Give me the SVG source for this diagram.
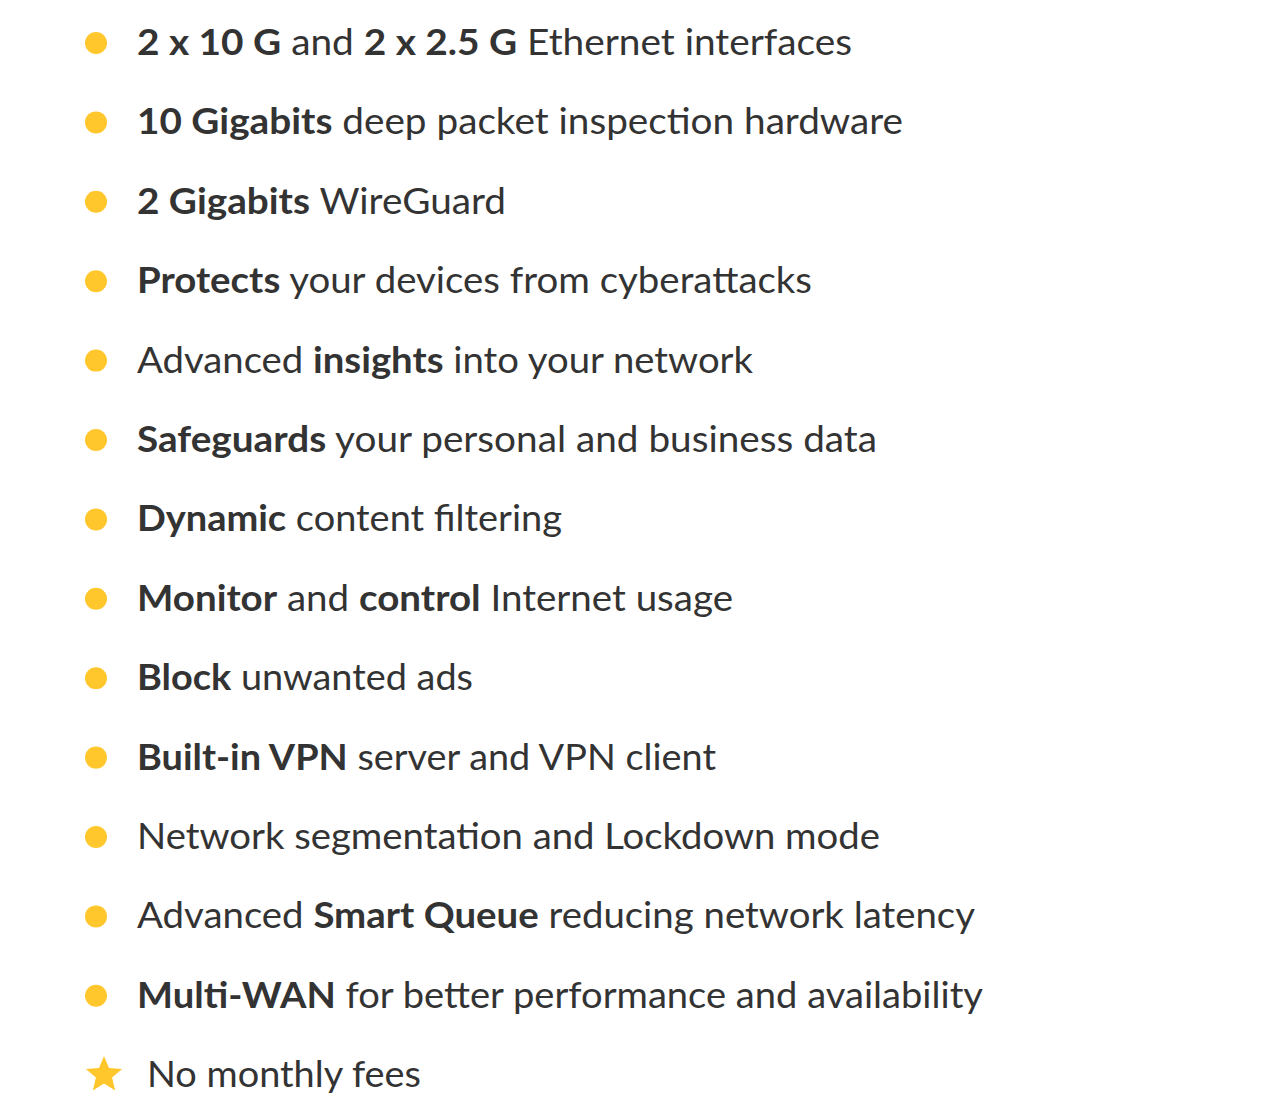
<svg xmlns="http://www.w3.org/2000/svg" width="1280" height="1118" viewBox="0 0 1280 1118">
<style>
.t{font-family:Lato,"Noto Sans","Liberation Sans",sans-serif;font-size:37px;fill:#333333}
.b{font-weight:700}
.dot{fill:#FFC72C}
</style>
<rect width="1280" height="1118" fill="#ffffff"/>
<g id="item1"><circle class="dot" cx="96" cy="43" r="11"/><text class="t" x="137" y="55" textLength="715" lengthAdjust="spacingAndGlyphs"><tspan class="b">2 x 10 G</tspan> and <tspan class="b">2 x 2.5 G</tspan> Ethernet interfaces</text></g>
<g id="item2"><circle class="dot" cx="96" cy="122.4" r="11"/><text class="t" x="137" y="134.4" textLength="766" lengthAdjust="spacingAndGlyphs"><tspan class="b">10 Gigabits</tspan> deep packet inspection hardware</text></g>
<g id="item3"><circle class="dot" cx="96" cy="201.8" r="11"/><text class="t" x="137" y="213.8" textLength="369" lengthAdjust="spacingAndGlyphs"><tspan class="b">2 Gigabits</tspan> WireGuard</text></g>
<g id="item4"><circle class="dot" cx="96" cy="281.2" r="11"/><text class="t" x="137" y="293.2" textLength="675" lengthAdjust="spacingAndGlyphs"><tspan class="b">Protects</tspan> your devices from cyberattacks</text></g>
<g id="item5"><circle class="dot" cx="96" cy="360.6" r="11"/><text class="t" x="137" y="372.6" textLength="616" lengthAdjust="spacingAndGlyphs">Advanced <tspan class="b">insights</tspan> into your network</text></g>
<g id="item6"><circle class="dot" cx="96" cy="440" r="11"/><text class="t" x="137" y="452" textLength="740" lengthAdjust="spacingAndGlyphs"><tspan class="b">Safeguards</tspan> your personal and business data</text></g>
<g id="item7"><circle class="dot" cx="96" cy="519.4" r="11"/><text class="t" x="137" y="531.4" textLength="425" lengthAdjust="spacingAndGlyphs"><tspan class="b">Dynamic</tspan> content filtering</text></g>
<g id="item8"><circle class="dot" cx="96" cy="598.8" r="11"/><text class="t" x="137" y="610.8" textLength="596" lengthAdjust="spacingAndGlyphs"><tspan class="b">Monitor</tspan> and <tspan class="b">control</tspan> Internet usage</text></g>
<g id="item9"><circle class="dot" cx="96" cy="678.2" r="11"/><text class="t" x="137" y="690.2" textLength="336" lengthAdjust="spacingAndGlyphs"><tspan class="b">Block</tspan> unwanted ads</text></g>
<g id="item10"><circle class="dot" cx="96" cy="757.6" r="11"/><text class="t" x="137" y="769.6" textLength="579" lengthAdjust="spacingAndGlyphs"><tspan class="b">Built-in VPN</tspan> server and VPN client</text></g>
<g id="item11"><circle class="dot" cx="96" cy="837" r="11"/><text class="t" x="137" y="849" textLength="743" lengthAdjust="spacingAndGlyphs">Network segmentation and Lockdown mode</text></g>
<g id="item12"><circle class="dot" cx="96" cy="916.4" r="11"/><text class="t" x="137" y="928.4" textLength="838" lengthAdjust="spacingAndGlyphs">Advanced <tspan class="b">Smart Queue</tspan> reducing network latency</text></g>
<g id="item13"><circle class="dot" cx="96" cy="995.8" r="11"/><text class="t" x="137" y="1007.8" textLength="846" lengthAdjust="spacingAndGlyphs"><tspan class="b">Multi-WAN</tspan> for better performance and availability</text></g>
<g id="item14"><polygon class="dot" points="104,1056 109,1068.1 122.1,1069.1 112.1,1077.6 115.2,1090.4 104,1083.5 92.8,1090.4 95.9,1077.6 85.9,1069.1 99,1068.1"/><text class="t" x="147" y="1087" textLength="274" lengthAdjust="spacingAndGlyphs">No monthly fees</text></g>
</svg>
